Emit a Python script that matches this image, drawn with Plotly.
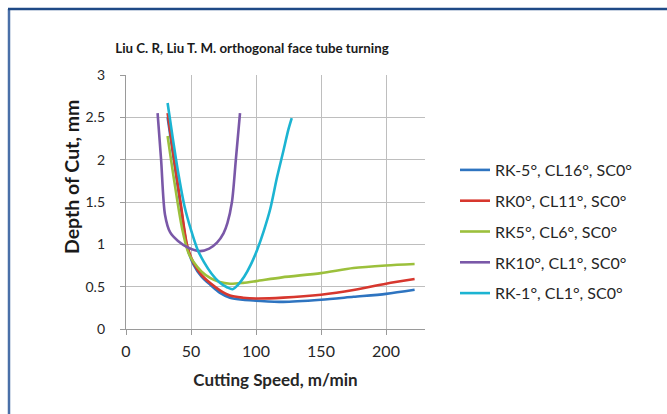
import plotly.graph_objects as go

# ---- data ----
names = ["RK-5°, CL16°, SC0°", "RK0°, CL11°, SC0°", "RK5°, CL6°, SC0°",
         "RK10°, CL1°, SC0°", "RK-1°, CL1°, SC0°"]

blue_x = [32, 37, 42, 47, 52, 58, 65, 72, 80, 90, 100, 121, 150, 175, 200, 222]
blue_y = [2.5, 1.98, 1.46, 0.97, 0.76, 0.62, 0.52, 0.43, 0.37, 0.345, 0.335, 0.32, 0.345, 0.38, 0.415, 0.463]

red_x = [32, 37, 42, 47, 52, 58, 65, 72, 80, 90, 100, 121, 150, 175, 200, 222]
red_y = [2.55, 2.0, 1.49, 0.99, 0.78, 0.64, 0.54, 0.46, 0.395, 0.37, 0.36, 0.37, 0.405, 0.46, 0.535, 0.59]

green_x = [32, 37, 43, 48, 52, 58, 65, 72, 80, 90, 100, 120, 150, 175, 200, 222]
green_y = [2.28, 1.76, 1.2, 0.9, 0.79, 0.68, 0.6, 0.555, 0.535, 0.545, 0.565, 0.61, 0.66, 0.72, 0.75, 0.767]

purple_x = [24.3, 27, 30, 34, 40, 48, 57, 64, 70, 75, 78, 81.5, 84.5, 87.7]
purple_y = [2.55, 2.0, 1.35, 1.14, 1.04, 0.96, 0.92, 0.95, 1.02, 1.13, 1.25, 1.5, 2.0, 2.55]

cyan_x = [32, 36, 40, 45, 50, 55, 60, 66, 72, 78, 82, 86, 91, 96, 101, 106, 111, 116, 121, 125, 127.5]
cyan_y = [2.67, 2.25, 1.86, 1.45, 1.17, 0.94, 0.79, 0.65, 0.55, 0.49, 0.47, 0.52, 0.62, 0.76, 0.94, 1.16, 1.42, 1.78, 2.1, 2.36, 2.49]

x_ticks = [0, 50, 100, 150, 200]
y_ticks = [0, 0.5, 1, 1.5, 2, 2.5, 3]
y_tick_text = ["0", "0.5", "1", "1.5", "2", "2.5", "3"]

colors = ["#2E74C0", "#D7372E", "#9CC03C", "#7A58A8", "#1CB4D2"]
series = [(blue_x, blue_y), (red_x, red_y), (green_x, green_y),
          (purple_x, purple_y), (cyan_x, cyan_y)]

FONT = "Lato, Open Sans, sans-serif"

fig = go.Figure()
for i, ((xs, ys), nm, c) in enumerate(zip(series, names, colors)):
    fig.add_trace(go.Scatter(
        x=xs, y=ys, mode="lines", name=nm, legendgroup=f"g{i}",
        line=dict(color=c, width=2.6, shape="spline", smoothing=0.8),
    ))

W, H = 667, 414
L, R, T, B = 126, 242, 75, 85
pw, ph = W - L - R, H - T - B

def px(xp):
    return (xp - L) / pw

def py(yp):
    return (H - B - yp) / ph

fig.update_layout(
    width=W, height=H,
    margin=dict(l=L, r=R, t=T, b=B),
    paper_bgcolor="white", plot_bgcolor="white",
    font=dict(family=FONT, size=14, color="#262626"),
    title=dict(text="<b>Liu C. R, Liu T. M. orthogonal face tube turning</b>",
               x=252 / W, xanchor="center", y=1 - 48 / H, yanchor="middle",
               font=dict(family=FONT, size=13.3, color="#1a1a1a")),
    showlegend=True,
    legend=dict(x=px(455), xanchor="left", y=py(153), yanchor="top",
                font=dict(family=FONT, size=16, color="#262626"),
                tracegroupgap=7, bgcolor="rgba(0,0,0,0)"),
    xaxis=dict(range=[0, 230], tickvals=x_ticks, showgrid=True,
               gridcolor="#BEBEBE", gridwidth=1.3, zeroline=False,
               showline=True, linecolor="#9A9A9A", linewidth=1.3,
               ticks="outside", ticklen=5, tickcolor="#9A9A9A",
               ticklabelstandoff=3,
               tickfont=dict(size=16),
               title=dict(text="<b>Cutting Speed, m/min</b>", standoff=14,
                          font=dict(size=17))),
    yaxis=dict(range=[0, 3], tickvals=y_ticks, ticktext=y_tick_text,
               showgrid=True, gridcolor="#BEBEBE", gridwidth=1.3,
               zeroline=False, showline=True, linecolor="#9A9A9A",
               linewidth=1.3, ticks="outside", ticklen=5, tickcolor="#9A9A9A",
               ticklabelstandoff=12,
               tickfont=dict(size=14)),
    annotations=[
        dict(text="<b>Depth of Cut, mm</b>", xref="paper", yref="paper",
             x=px(71), y=py(177), xanchor="center", yanchor="middle",
             textangle=-90, showarrow=False,
             font=dict(family=FONT, size=19.5, color="#1a1a1a")),
    ],
    shapes=[
        dict(type="line", xref="paper", yref="paper",
             x0=px(9), x1=px(9), y0=py(420), y1=py(9),
             line=dict(color="#4A6FA8", width=2.5)),
        dict(type="line", xref="paper", yref="paper",
             x0=px(8), x1=px(680), y0=py(9), y1=py(9),
             line=dict(color="#1F4A86", width=2.5)),
    ],
)

fig.write_html("out.html")
